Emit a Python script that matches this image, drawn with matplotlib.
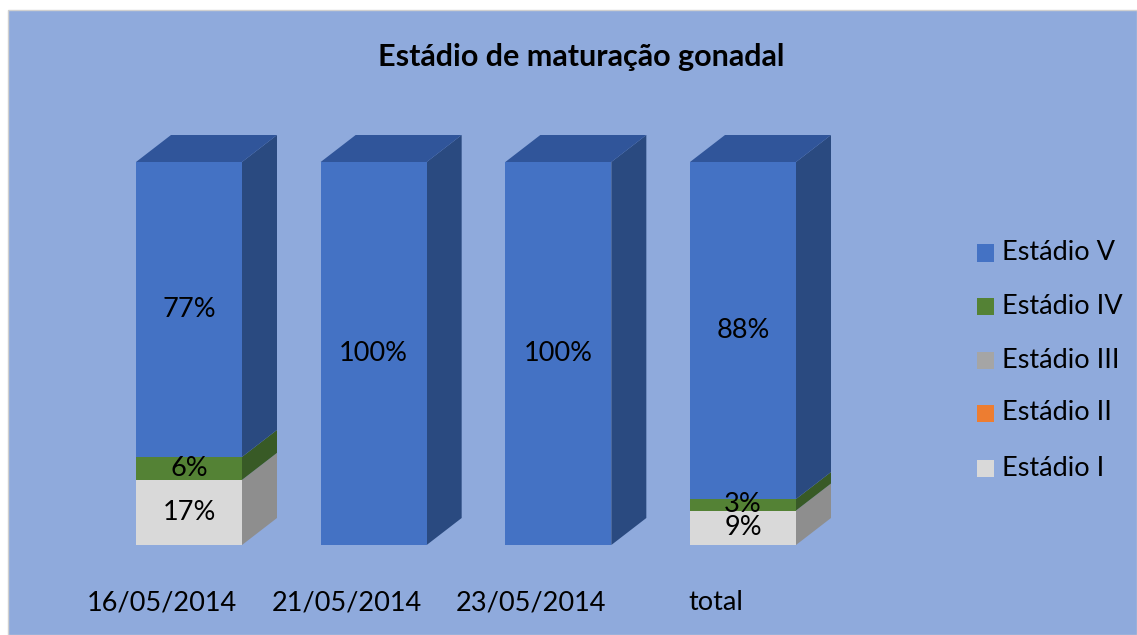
import matplotlib
matplotlib.use("Agg")
import matplotlib.pyplot as plt
from matplotlib.patches import Polygon, Rectangle
import matplotlib.transforms as mtransforms

plt.rcParams['font.family'] = ['Lato', 'DejaVu Sans']

categories = ["16/05/2014", "21/05/2014", "23/05/2014", "total"]
stages = ["Estádio I", "Estádio II", "Estádio III", "Estádio IV", "Estádio V"]
estadio_I = [17, 0, 0, 9]
estadio_II = [0, 0, 0, 0]
estadio_III = [0, 0, 0, 0]
estadio_IV = [6, 0, 0, 3]
estadio_V = [77, 100, 100, 88]
series = [estadio_I, estadio_II, estadio_III, estadio_IV, estadio_V]

front_cols = ["#D9D9D9", "#ED7D31", "#A5A5A5", "#548235", "#4472C4"]
side_cols = ["#8E8E8E", "#A8541F", "#757575", "#385A26", "#2A4A80"]
top_cols = ["#B0B0B0", "#C8662A", "#8C8C8C", "#45702D", "#30559A"]

W, H = 1137, 635
fig = plt.figure(figsize=(W / 100, H / 100), dpi=100)
fig.patch.set_facecolor("white")
fig.patches.append(Rectangle((8 / W, 0), 1 - 8 / W, (H - 10) / H,
                             transform=fig.transFigure, facecolor="#8FAADC",
                             edgecolor="#D0D0D0", linewidth=1, zorder=-10))

# axes: x=0 -> px 189, x=3 -> px 743 ; y=0 -> px 545, y=100 -> px 162
ppu = (743 - 189) / 3.0
x_left_px = 189 - 0.6 * ppu
x_right_px = 743 + 0.6 * ppu
ax = fig.add_axes([x_left_px / W, (H - 545) / H, (x_right_px - x_left_px) / W, (545 - 162) / H])
ax.set_xlim(-0.6, 3.6)
ax.set_ylim(0, 100)
ax.axis("off")

bw = 106 / ppu
dx = 35 / ppu
dy = 27 / 383 * 100
label_y = -(603 - 545) / 383 * 100
off = mtransforms.offset_copy(ax.transData, fig=fig, x=-27, y=0, units="dots")

for i, cat in enumerate(categories):
    bottom = 0
    top_idx = None
    for s, vals in enumerate(series):
        v = vals[i]
        if v <= 0:
            continue
        ax.bar(i, v, bottom=bottom, width=bw, color=front_cols[s], linewidth=0, zorder=3)
        xr = i + bw / 2
        ax.add_patch(Polygon([(xr, bottom), (xr + dx, bottom + dy), (xr + dx, bottom + v + dy), (xr, bottom + v)],
                             closed=True, facecolor=side_cols[s], edgecolor="none", zorder=2, clip_on=False))
        ax.text(i, bottom + v / 2, f"{v}%", ha="center", va="center", fontsize=19.5, color="black", zorder=5)
        bottom += v
        top_idx = s
    xl = i - bw / 2
    xr = i + bw / 2
    ax.add_patch(Polygon([(xl, bottom), (xl + dx, bottom + dy), (xr + dx, bottom + dy), (xr, bottom)],
                         closed=True, facecolor=top_cols[top_idx], edgecolor="none", zorder=4, clip_on=False))
    ax.text(i, label_y, cat, transform=off, ha="center", va="center", fontsize=19.5, color="black",
            clip_on=False)

fig.text(581 / W, 1 - 57 / H, "Estádio de maturação gonadal", ha="center", va="center",
         fontsize=22, fontweight="bold", color="black")

# legend (top to bottom: V, IV, III, II, I)
leg_rows_px = [253, 307, 360, 413, 468]
for row, s in zip(leg_rows_px, range(4, -1, -1)):
    fig.patches.append(Rectangle((977 / W, 1 - (row + 8.5) / H), 17 / W, 17 / H,
                                 transform=fig.transFigure, facecolor=front_cols[s],
                                 edgecolor="none", zorder=5))
    fig.text(1002 / W, 1 - row / H, stages[s], ha="left", va="center", fontsize=19.5, color="black")

fig.savefig("out.png", dpi=100, facecolor=fig.get_facecolor())
